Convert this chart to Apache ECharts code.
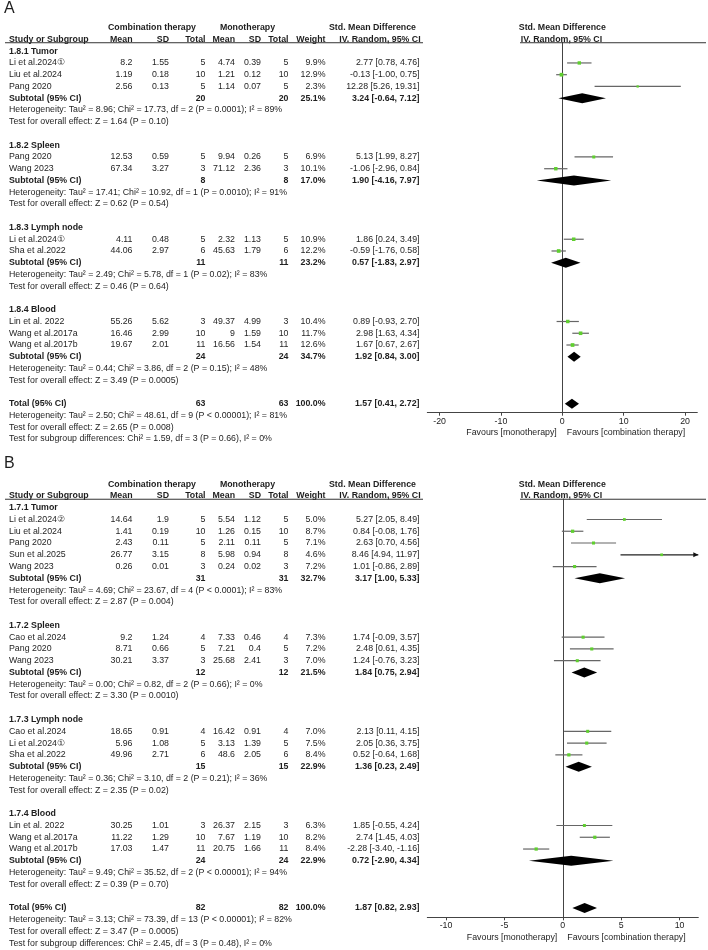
<!DOCTYPE html>
<html>
<head>
<meta charset="utf-8">
<script src="https://cdn.jsdelivr.net/npm/echarts@6/dist/echarts.min.js"></script>
<style>
  html, body { margin: 0; padding: 0; background: #fff; }
  #chart { width: 708px; height: 950px; }
</style>
</head>
<body>
<div id="chart"></div>
<script>
  // ---------- panel A (1.8.x) ----------
  var subgroupsA = ['1.8.1 Tumor', '1.8.2 Spleen', '1.8.3 Lymph node', '1.8.4 Blood']
  var studiesA = ['Li et al.2024①', 'Liu et al.2024', 'Pang 2020', 'Pang 2020', 'Wang 2023',
    'Li et al.2024①', 'Sha et al.2022', 'Lin et al. 2022', 'Wang et al.2017a', 'Wang et al.2017b']
  var groupA = [0, 0, 0, 1, 1, 2, 2, 3, 3, 3]
  var combMeanA = [8.2, 1.19, 2.56, 12.53, 67.34, 4.11, 44.06, 55.26, 16.46, 19.67]
  var combSdA = [1.55, 0.18, 0.13, 0.59, 3.27, 0.48, 2.97, 5.62, 2.99, 2.01]
  var combNA = [5, 10, 5, 5, 3, 5, 6, 3, 10, 11]
  var monoMeanA = [4.74, 1.21, 1.14, 9.94, 71.12, 2.32, 45.63, 49.37, 9, 16.56]
  var monoSdA = [0.39, 0.12, 0.07, 0.26, 2.36, 1.13, 1.79, 4.99, 1.59, 1.54]
  var monoNA = [5, 10, 5, 5, 3, 5, 6, 3, 10, 11]
  var weightA = [9.9, 12.9, 2.3, 6.9, 10.1, 10.9, 12.2, 10.4, 11.7, 12.6]
  var smdA = [2.77, -0.13, 12.28, 5.13, -1.06, 1.86, -0.59, 0.89, 2.98, 1.67]
  var lowA = [0.78, -1.00, 5.26, 1.99, -2.96, 0.24, -1.76, -0.93, 1.63, 0.67]
  var highA = [4.76, 0.75, 19.31, 8.27, 0.84, 3.49, 0.58, 2.70, 4.34, 2.67]
  // pooled: one per subgroup, last one is the overall total
  var poolCombNA = [20, 8, 11, 24, 63]
  var poolMonoNA = [20, 8, 11, 24, 63]
  var poolWeightA = [25.1, 17.0, 23.2, 34.7, 100.0]
  var poolSmdA = [3.24, 1.90, 0.57, 1.92, 1.57]
  var poolLowA = [-0.64, -4.16, -1.83, 0.84, 0.41]
  var poolHighA = [7.12, 7.97, 2.97, 3.00, 2.72]
  var hetA = [
    'Heterogeneity: Tau² = 8.96; Chi² = 17.73, df = 2 (P = 0.0001); I² = 89%',
    'Heterogeneity: Tau² = 17.41; Chi² = 10.92, df = 1 (P = 0.0010); I² = 91%',
    'Heterogeneity: Tau² = 2.49; Chi² = 5.78, df = 1 (P = 0.02); I² = 83%',
    'Heterogeneity: Tau² = 0.44; Chi² = 3.86, df = 2 (P = 0.15); I² = 48%',
    'Heterogeneity: Tau² = 2.50; Chi² = 48.61, df = 9 (P < 0.00001); I² = 81%'
  ]
  var effectA = [
    'Test for overall effect: Z = 1.64 (P = 0.10)',
    'Test for overall effect: Z = 0.62 (P = 0.54)',
    'Test for overall effect: Z = 0.46 (P = 0.64)',
    'Test for overall effect: Z = 3.49 (P = 0.0005)',
    'Test for overall effect: Z = 2.65 (P = 0.008)'
  ]
  var subDiffA = 'Test for subgroup differences: Chi² = 1.59, df = 3 (P = 0.66), I² = 0%'
  var ticksA = [-20, -10, 0, 10, 20]

  // ---------- panel B (1.7.x) ----------
  var subgroupsB = ['1.7.1 Tumor', '1.7.2 Spleen', '1.7.3 Lymph node', '1.7.4 Blood']
  var studiesB = ['Li et al.2024②', 'Liu et al.2024', 'Pang 2020', 'Sun et al.2025', 'Wang 2023',
    'Cao et al.2024', 'Pang 2020', 'Wang 2023',
    'Cao et al.2024', 'Li et al.2024①', 'Sha et al.2022',
    'Lin et al. 2022', 'Wang et al.2017a', 'Wang et al.2017b']
  var groupB = [0, 0, 0, 0, 0, 1, 1, 1, 2, 2, 2, 3, 3, 3]
  var combMeanB = [14.64, 1.41, 2.43, 26.77, 0.26, 9.2, 8.71, 30.21, 18.65, 5.96, 49.96, 30.25, 11.22, 17.03]
  var combSdB = [1.9, 0.19, 0.11, 3.15, 0.01, 1.24, 0.66, 3.37, 0.91, 1.08, 2.71, 1.01, 1.29, 1.47]
  var combNB = [5, 10, 5, 8, 3, 4, 5, 3, 4, 5, 6, 3, 10, 11]
  var monoMeanB = [5.54, 1.26, 2.11, 5.98, 0.24, 7.33, 7.21, 25.68, 16.42, 3.13, 48.6, 26.37, 7.67, 20.75]
  var monoSdB = [1.12, 0.15, 0.11, 0.94, 0.02, 0.46, 0.4, 2.41, 0.91, 1.39, 2.05, 2.15, 1.19, 1.66]
  var monoNB = [5, 10, 5, 8, 3, 4, 5, 3, 4, 5, 6, 3, 10, 11]
  var weightB = [5.0, 8.7, 7.1, 4.6, 7.2, 7.3, 7.2, 7.0, 7.0, 7.5, 8.4, 6.3, 8.2, 8.4]
  var smdB = [5.27, 0.84, 2.63, 8.46, 1.01, 1.74, 2.48, 1.24, 2.13, 2.05, 0.52, 1.85, 2.74, -2.28]
  var lowB = [2.05, -0.08, 0.70, 4.94, -0.86, -0.09, 0.61, -0.76, 0.11, 0.36, -0.64, -0.55, 1.45, -3.40]
  var highB = [8.49, 1.76, 4.56, 11.97, 2.89, 3.57, 4.35, 3.23, 4.15, 3.75, 1.68, 4.24, 4.03, -1.16]
  var poolCombNB = [31, 12, 15, 24, 82]
  var poolMonoNB = [31, 12, 15, 24, 82]
  var poolWeightB = [32.7, 21.5, 22.9, 22.9, 100.0]
  var poolSmdB = [3.17, 1.84, 1.36, 0.72, 1.87]
  var poolLowB = [1.00, 0.75, 0.23, -2.90, 0.82]
  var poolHighB = [5.33, 2.94, 2.49, 4.34, 2.93]
  var hetB = [
    'Heterogeneity: Tau² = 4.69; Chi² = 23.67, df = 4 (P < 0.0001); I² = 83%',
    'Heterogeneity: Tau² = 0.00; Chi² = 0.82, df = 2 (P = 0.66); I² = 0%',
    'Heterogeneity: Tau² = 0.36; Chi² = 3.10, df = 2 (P = 0.21); I² = 36%',
    'Heterogeneity: Tau² = 9.49; Chi² = 35.52, df = 2 (P < 0.00001); I² = 94%',
    'Heterogeneity: Tau² = 3.13; Chi² = 73.39, df = 13 (P < 0.00001); I² = 82%'
  ]
  var effectB = [
    'Test for overall effect: Z = 2.87 (P = 0.004)',
    'Test for overall effect: Z = 3.30 (P = 0.0010)',
    'Test for overall effect: Z = 2.35 (P = 0.02)',
    'Test for overall effect: Z = 0.39 (P = 0.70)',
    'Test for overall effect: Z = 3.47 (P = 0.0005)'
  ]
  var subDiffB = 'Test for subgroup differences: Chi² = 2.45, df = 3 (P = 0.48), I² = 0%'
  var ticksB = [-10, -5, 0, 5, 10]

  var FONT = 'Arial, "Liberation Sans", sans-serif'
  var FS = 8.8
  // column anchors (px) and alignment
  var COL = {
    study: [9, 'left'], cMean: [132.5, 'right'], cSd: [169, 'right'], cN: [205.5, 'right'],
    mMean: [235, 'right'], mSd: [261, 'right'], mN: [288.5, 'right'], weight: [325.5, 'right'],
    smd: [419.5, 'right']
  }

  function cell(text, col, bold) {
    return {text: String(text), x: COL[col][0], align: COL[col][1], bold: !!bold}
  }
  function ci(e, l, h) {
    return e.toFixed(2) + ' [' + l.toFixed(2) + ', ' + h.toFixed(2) + ']'
  }

  function buildPanel(p) {
    var rows = [], studies = [], pooled = []
    rows.push({r: -2, cells: [
      {text: 'Combination therapy', x: 152, align: 'center', bold: true},
      {text: 'Monotherapy', x: 247.5, align: 'center', bold: true},
      {text: 'Std. Mean Difference', x: 372.5, align: 'center', bold: true},
      {text: 'Std. Mean Difference', x: 562.3, align: 'center', bold: true}
    ]})
    rows.push({r: -1, cells: [
      cell('Study or Subgroup', 'study', true), cell('Mean', 'cMean', true), cell('SD', 'cSd', true),
      cell('Total', 'cN', true), cell('Mean', 'mMean', true), cell('SD', 'mSd', true),
      cell('Total', 'mN', true), cell('Weight', 'weight', true),
      {text: 'IV. Random, 95% CI', x: 380, align: 'center', bold: true},
      {text: 'IV. Random, 95% CI', x: 561.5, align: 'center', bold: true}
    ]})
    var r = 0
    p.subgroups.forEach(function (name, g) {
      rows.push({r: r++, cells: [cell(name, 'study', true)]})
      for (var i = 0; i < p.studies.length; i++) {
        if (p.group[i] !== g) continue
        rows.push({r: r, cells: [
          cell(p.studies[i], 'study'), cell(p.combMean[i], 'cMean'), cell(p.combSd[i], 'cSd'),
          cell(p.combN[i], 'cN'), cell(p.monoMean[i], 'mMean'), cell(p.monoSd[i], 'mSd'),
          cell(p.monoN[i], 'mN'), cell(p.weight[i].toFixed(1) + '%', 'weight'),
          cell(ci(p.smd[i], p.low[i], p.high[i]), 'smd')
        ]})
        studies.push([p.smd[i], p.low[i], p.high[i], r, p.weight[i]])
        r++
      }
      rows.push({r: r, cells: [
        cell('Subtotal (95% CI)', 'study', true), cell(p.poolCombN[g], 'cN', true),
        cell(p.poolMonoN[g], 'mN', true), cell(p.poolWeight[g].toFixed(1) + '%', 'weight', true),
        cell(ci(p.poolSmd[g], p.poolLow[g], p.poolHigh[g]), 'smd', true)
      ]})
      pooled.push([p.poolSmd[g], p.poolLow[g], p.poolHigh[g], r])
      r++
      rows.push({r: r++, cells: [cell(p.het[g], 'study')]})
      rows.push({r: r++, cells: [cell(p.effect[g], 'study')]})
      r++
    })
    var t = p.subgroups.length
    rows.push({r: r, cells: [
      cell('Total (95% CI)', 'study', true), cell(p.poolCombN[t], 'cN', true),
      cell(p.poolMonoN[t], 'mN', true), cell(p.poolWeight[t].toFixed(1) + '%', 'weight', true),
      cell(ci(p.poolSmd[t], p.poolLow[t], p.poolHigh[t]), 'smd', true)
    ]})
    pooled.push([p.poolSmd[t], p.poolLow[t], p.poolHigh[t], r])
    r++
    rows.push({r: r++, cells: [cell(p.het[t], 'study')]})
    rows.push({r: r++, cells: [cell(p.effect[t], 'study')]})
    rows.push({r: r++, cells: [cell(p.subDiff, 'study')]})
    return {rows: rows, studies: studies, pooled: pooled}
  }

  function textEl(c, y) {
    return {
      type: 'text', x: c.x, y: y,
      style: {
        text: c.text, align: c.align, verticalAlign: 'middle',
        fontSize: FS, fontWeight: c.bold ? 'bold' : 'normal', fontFamily: FONT, fill: '#1e1e1e'
      }
    }
  }

  function panelSeries(built, gi, yMax) {
    var rows = built.rows
    return [
      { // table text
        type: 'custom', xAxisIndex: gi, yAxisIndex: gi, silent: true,
        data: rows.map(function (row) { return [0, row.r] }),
        renderItem: function (params, api) {
          var row = rows[params.dataIndex]
          var y = api.coord([0, api.value(1)])[1]
          return {type: 'group', children: row.cells.map(function (c) { return textEl(c, y) })}
        }
      },
      { // header rule + favours labels
        type: 'custom', xAxisIndex: gi, yAxisIndex: gi, silent: true,
        data: [[0, -0.72]],
        renderItem: function (params, api) {
          var y = api.coord([0, api.value(1)])[1]
          var cs = params.coordSys
          var x0 = api.coord([0, 0])[0]
          var yb = cs.y + cs.height + 20
          var st = {stroke: '#333', lineWidth: 1}
          return {type: 'group', children: [
            {type: 'line', shape: {x1: 5, y1: y, x2: 423, y2: y}, style: st},
            {type: 'line', shape: {x1: 520, y1: y, x2: 706, y2: y}, style: st},
            textEl({text: 'Favours [monotherapy]', x: x0 - 5.5, align: 'right'}, yb),
            textEl({text: 'Favours [combination therapy]', x: x0 + 4.5, align: 'left'}, yb)
          ]}
        }
      },
      { // individual studies
        type: 'custom', xAxisIndex: gi, yAxisIndex: gi, silent: true,
        data: built.studies,
        renderItem: function (params, api) {
          var row = api.value(3)
          var cs = params.coordSys
          var y = api.coord([0, row])[1]
          var xl = api.coord([api.value(1), row])[0]
          var xh = api.coord([api.value(2), row])[0]
          var xe = api.coord([api.value(0), row])[0]
          var left = cs.x, right = cs.x + cs.width
          var cut = xh > right
          var kids = [{
            type: 'line',
            shape: {x1: Math.max(xl, left), y1: y, x2: Math.min(xh, right), y2: y},
            style: {stroke: cut ? '#222' : '#666', lineWidth: 1.2}
          }]
          if (cut) {
            kids.push({type: 'polygon', shape: {points: [[right, y], [right - 5, y - 2.5], [right - 5, y + 2.5]]},
              style: {fill: '#111'}})
          }
          var s = 1.2 + Math.sqrt(api.value(4)) * 0.7
          kids.push({type: 'rect', shape: {x: xe - s / 2, y: y - s / 2, width: s, height: s},
            style: {fill: '#5fcf2f'}})
          return {type: 'group', children: kids}
        }
      },
      { // pooled diamonds
        type: 'custom', xAxisIndex: gi, yAxisIndex: gi, silent: true,
        data: built.pooled,
        renderItem: function (params, api) {
          var row = api.value(3)
          var a = api.coord([api.value(1), row])
          var c = api.coord([api.value(0), row])
          var b = api.coord([api.value(2), row])
          return {type: 'polygon',
            shape: {points: [[a[0], a[1]], [c[0], c[1] - 5], [b[0], b[1]], [c[0], c[1] + 5]]},
            style: {fill: '#000'}}
        }
      }
    ]
  }

  var panelA = buildPanel({
    subgroups: subgroupsA, studies: studiesA, group: groupA, combMean: combMeanA, combSd: combSdA,
    combN: combNA, monoMean: monoMeanA, monoSd: monoSdA, monoN: monoNA, weight: weightA,
    smd: smdA, low: lowA, high: highA, poolCombN: poolCombNA, poolMonoN: poolMonoNA,
    poolWeight: poolWeightA, poolSmd: poolSmdA, poolLow: poolLowA, poolHigh: poolHighA,
    het: hetA, effect: effectA, subDiff: subDiffA
  })
  var panelB = buildPanel({
    subgroups: subgroupsB, studies: studiesB, group: groupB, combMean: combMeanB, combSd: combSdB,
    combN: combNB, monoMean: monoMeanB, monoSd: monoSdB, monoN: monoNB, weight: weightB,
    smd: smdB, low: lowB, high: highB, poolCombN: poolCombNB, poolMonoN: poolMonoNB,
    poolWeight: poolWeightB, poolSmd: poolSmdB, poolLow: poolLowB, poolHigh: poolHighB,
    het: hetB, effect: effectB, subDiff: subDiffB
  })

  function xAxis(gi, lim, ticks) {
    return {
      type: 'value', gridIndex: gi, min: -lim, max: lim, position: 'bottom',
      axisLine: {onZero: false, lineStyle: {color: '#444', width: 1}},
      axisTick: {show: true, customValues: ticks, length: 3, lineStyle: {color: '#444'}},
      axisLabel: {customValues: ticks, fontSize: FS, fontFamily: FONT, color: '#222', margin: 4},
      splitLine: {show: false}
    }
  }
  function yAxis(gi, max) {
    return {
      type: 'value', gridIndex: gi, inverse: true, min: -0.74, max: max,
      axisLine: {show: true, onZero: true, lineStyle: {color: '#444', width: 1}},
      axisTick: {show: false}, axisLabel: {show: false}, splitLine: {show: false}
    }
  }

  var chart = echarts.init(document.getElementById('chart'))
  chart.setOption({
    animation: false,
    backgroundColor: '#fff',
    grid: [
      {left: 427.3, top: 42.5, width: 270, height: 370.2},
      {left: 427.3, top: 499, width: 271, height: 418.3}
    ],
    xAxis: [xAxis(0, 22, ticksA), xAxis(1, 11.6, ticksB)],
    yAxis: [yAxis(0, 30.76), yAxis(1, 34.8)],
    graphic: [
      {type: 'text', left: 4, top: 1, style: {text: 'A', fontSize: 16, fontFamily: FONT, fill: '#1e1e1e'}},
      {type: 'text', left: 4, top: 456, style: {text: 'B', fontSize: 16, fontFamily: FONT, fill: '#1e1e1e'}}
    ],
    series: panelSeries(panelA, 0).concat(panelSeries(panelB, 1))
  })
</script>
</body>
</html>
